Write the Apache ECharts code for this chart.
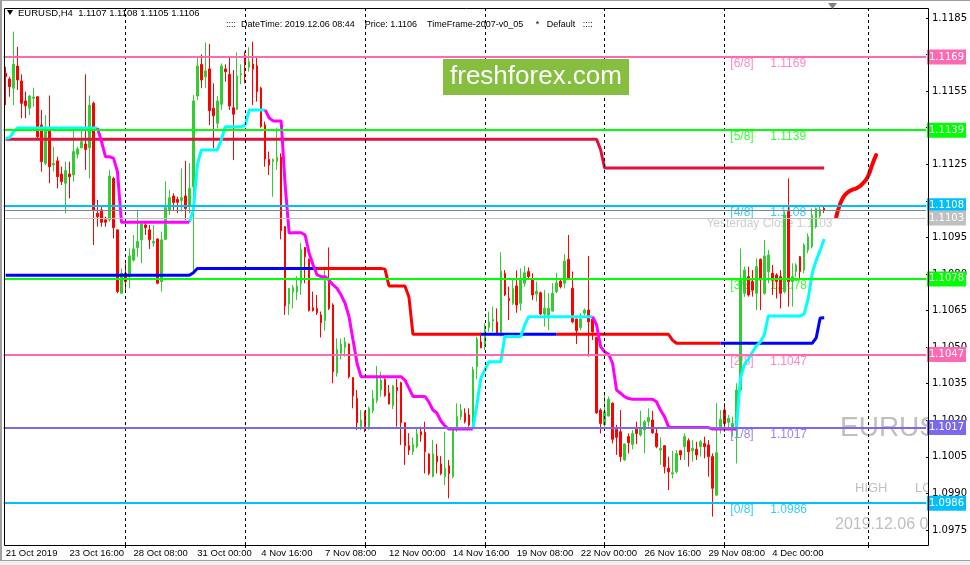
<!DOCTYPE html>
<html><head><meta charset="utf-8">
<script src="https://cdn.jsdelivr.net/npm/echarts@6/dist/echarts.min.js"></script>
<style>html,body{margin:0;padding:0;background:#fff}#c{width:970px;height:565px}</style>
</head><body><div id="c"></div>
<script>
// ---------------- DATA ----------------
const N_BARS = 231; // visible bar slots incl. future area
const opens = [1.11623,1.11600,1.11562,1.11653,1.11592,1.11510,1.11480,1.11521,1.11527,1.11411,1.11254,1.11387,1.11247,1.11264,1.11210,1.11172,1.11210,1.11206,1.11291,1.11318,1.11333,1.11318,1.11500,1.11049,1.11063,1.11022,1.11022,1.11192,1.10981,1.10721,1.10803,1.10789,1.10857,1.10908,1.10940,1.11001,1.10981,1.10927,1.10944,1.10769,1.10942,1.11060,1.11120,1.11106,1.11101,1.11120,1.11083,1.11158,1.11530,1.11660,1.11609,1.11641,1.11480,1.11418,1.11496,1.11641,1.11619,1.11482,1.11475,1.11616,1.11696,1.11648,1.11661,1.11653,1.11562,1.11411,1.11270,1.11261,1.11261,1.11280,1.10994,1.10677,1.10726,1.10726,1.10762,1.10909,1.10860,1.10662,1.10659,1.10632,1.10609,1.10764,1.10673,1.10393,1.10475,1.10499,1.10513,1.10375,1.10290,1.10174,1.10235,1.10174,1.10239,1.10281,1.10324,1.10368,1.10313,1.10260,1.10334,1.10354,1.10190,1.10096,1.10071,1.10092,1.10153,1.10151,1.10062,1.09969,1.10053,1.10021,1.09969,1.10013,1.09969,1.10174,1.10215,1.10229,1.10222,1.10181,1.10420,1.10521,1.10509,1.10581,1.10607,1.10603,1.10550,1.10803,1.10700,1.10680,1.10751,1.10680,1.10762,1.10810,1.10778,1.10718,1.10723,1.10636,1.10632,1.10648,1.10728,1.10771,1.10762,1.10860,1.10741,1.10615,1.10581,1.10639,1.10652,1.10615,1.10540,1.10242,1.10181,1.10218,1.10270,1.10163,1.10153,1.10037,1.10133,1.10101,1.10163,1.10140,1.10160,1.10194,1.10201,1.10146,1.10078,1.10096,1.10003,1.09980,1.09989,1.10075,1.10092,1.10116,1.10075,1.10081,1.10092,1.10105,1.10099,1.10051,1.09893,1.10174,1.10242,1.10192,1.10170,1.10167,1.10324,1.10721,1.10789,1.10769,1.10721,1.10860,1.10721,1.10810,1.10803,1.10796,1.10789,1.10728,1.11056,1.10769,1.10810,1.10871,1.10816,1.10898,1.10912,1.10994,1.11038,1.11070];
const highs = [1.11650,1.11609,1.11794,1.11732,1.11619,1.11548,1.11534,1.11564,1.11530,1.11473,1.11452,1.11532,1.11322,1.11281,1.11240,1.11261,1.11261,1.11391,1.11322,1.11404,1.11619,1.11532,1.11507,1.11104,1.11083,1.11035,1.11227,1.11199,1.10981,1.10823,1.10844,1.10905,1.10960,1.11063,1.11015,1.11015,1.11001,1.11001,1.10946,1.10974,1.11181,1.11145,1.11131,1.11117,1.11233,1.11264,1.11254,1.11534,1.11691,1.11701,1.11750,1.11743,1.11582,1.11530,1.11664,1.11660,1.11691,1.11637,1.11709,1.11660,1.11712,1.11730,1.11753,1.11691,1.11568,1.11425,1.11302,1.11274,1.11398,1.11295,1.10996,1.10743,1.10755,1.10792,1.10926,1.10911,1.10864,1.10728,1.10714,1.10646,1.10830,1.10909,1.10680,1.10536,1.10536,1.10540,1.10515,1.10376,1.10324,1.10242,1.10239,1.10256,1.10324,1.10423,1.10399,1.10372,1.10345,1.10345,1.10369,1.10358,1.10192,1.10147,1.10130,1.10167,1.10174,1.10194,1.10064,1.10119,1.10103,1.10053,1.10153,1.10037,1.10167,1.10270,1.10267,1.10249,1.10249,1.10420,1.10543,1.10559,1.10598,1.10646,1.10666,1.10659,1.10889,1.10816,1.10748,1.10775,1.10814,1.10823,1.10833,1.10827,1.10803,1.10769,1.10728,1.10734,1.10721,1.10762,1.10805,1.10778,1.10882,1.10960,1.10810,1.10617,1.10639,1.10659,1.10874,1.10617,1.10543,1.10249,1.10304,1.10297,1.10274,1.10181,1.10242,1.10105,1.10146,1.10160,1.10194,1.10239,1.10201,1.10249,1.10239,1.10167,1.10130,1.10098,1.10051,1.10075,1.10078,1.10077,1.10146,1.10126,1.10119,1.10112,1.10119,1.10133,1.10119,1.10064,1.10270,1.10242,1.10270,1.10222,1.10215,1.10352,1.10905,1.10830,1.10830,1.10816,1.10864,1.10864,1.10939,1.10898,1.10837,1.10803,1.10816,1.11056,1.11192,1.10844,1.10844,1.10874,1.10926,1.10967,1.11069,1.11073,1.11076,1.11080];
const lows = [1.11493,1.11527,1.11493,1.11555,1.11439,1.11439,1.11452,1.11486,1.11357,1.11220,1.11247,1.11172,1.11220,1.11151,1.11165,1.11049,1.11110,1.11179,1.11274,1.11315,1.11227,1.11192,1.10919,1.10994,1.10994,1.10994,1.11015,1.10946,1.10721,1.10721,1.10734,1.10741,1.10851,1.10871,1.10844,1.10960,1.10903,1.10912,1.10758,1.10728,1.10940,1.11042,1.11063,1.11049,1.11056,1.11022,1.11049,1.10803,1.11514,1.11562,1.11562,1.11411,1.11315,1.11398,1.11473,1.11589,1.11473,1.11268,1.11473,1.11578,1.11582,1.11630,1.11493,1.11507,1.11400,1.11240,1.11206,1.11117,1.11227,1.10942,1.10632,1.10632,1.10659,1.10693,1.10714,1.10762,1.10646,1.10646,1.10632,1.10540,1.10568,1.10652,1.10352,1.10379,1.10450,1.10461,1.10372,1.10249,1.10160,1.10160,1.10151,1.10160,1.10229,1.10270,1.10297,1.10297,1.10265,1.10246,1.10174,1.10099,1.10017,1.10058,1.10058,1.10085,1.10112,1.09982,1.09975,1.09966,1.09982,1.09975,1.09934,1.09880,1.09962,1.10153,1.10201,1.10187,1.10174,1.10174,1.10368,1.10495,1.10488,1.10563,1.10563,1.10550,1.10543,1.10710,1.10611,1.10673,1.10641,1.10650,1.10748,1.10782,1.10693,1.10687,1.10632,1.10584,1.10570,1.10646,1.10721,1.10741,1.10741,1.10775,1.10598,1.10513,1.10570,1.10632,1.10461,1.10529,1.10226,1.10146,1.10174,1.10215,1.10105,1.10058,1.10030,1.10034,1.10064,1.10081,1.10103,1.10133,1.10064,1.10174,1.10144,1.10085,1.10017,1.09982,1.09914,1.09962,1.09982,1.10037,1.10037,1.10010,1.10030,1.10037,1.10051,1.10044,1.09969,1.09805,1.09891,1.10146,1.10153,1.10160,1.10133,1.10023,1.10317,1.10707,1.10707,1.10707,1.10652,1.10652,1.10714,1.10762,1.10714,1.10700,1.10659,1.10721,1.10666,1.10666,1.10789,1.10782,1.10803,1.10885,1.10905,1.10987,1.11028,1.11050];
const closes = [1.11609,1.11568,1.11660,1.11596,1.11500,1.11490,1.11530,1.11526,1.11363,1.11261,1.11398,1.11240,1.11253,1.11199,1.11179,1.11224,1.11199,1.11302,1.11313,1.11343,1.11311,1.11493,1.11063,1.11035,1.11012,1.11012,1.11202,1.10990,1.10728,1.10803,1.10769,1.10874,1.10903,1.10933,1.11004,1.10990,1.10940,1.10933,1.10762,1.10940,1.11072,1.11113,1.11093,1.11094,1.11113,1.11069,1.11151,1.11510,1.11653,1.11596,1.11633,1.11470,1.11449,1.11510,1.11653,1.11630,1.11489,1.11455,1.11612,1.11622,1.11660,1.11671,1.11640,1.11548,1.11404,1.11272,1.11247,1.11270,1.11279,1.10978,1.10669,1.10741,1.10744,1.10751,1.10901,1.10871,1.10650,1.10650,1.10641,1.10600,1.10773,1.10659,1.10399,1.10491,1.10513,1.10521,1.10379,1.10300,1.10190,1.10201,1.10174,1.10249,1.10290,1.10372,1.10365,1.10301,1.10267,1.10341,1.10322,1.10190,1.10095,1.10078,1.10101,1.10144,1.10140,1.10071,1.09982,1.10062,1.10030,1.09982,1.10003,1.09982,1.10160,1.10215,1.10242,1.10194,1.10181,1.10409,1.10533,1.10498,1.10570,1.10604,1.10613,1.10554,1.10812,1.10714,1.10691,1.10741,1.10673,1.10775,1.10805,1.10789,1.10714,1.10730,1.10636,1.10660,1.10659,1.10721,1.10764,1.10748,1.10853,1.10778,1.10604,1.10568,1.10615,1.10652,1.10604,1.10563,1.10231,1.10187,1.10235,1.10286,1.10122,1.10130,1.10051,1.10103,1.10108,1.10146,1.10146,1.10163,1.10194,1.10212,1.10149,1.10092,1.10084,1.10010,1.09989,1.09985,1.10064,1.10058,1.10133,1.10071,1.10085,1.10058,1.10112,1.10092,1.10051,1.09921,1.10067,1.10204,1.10187,1.10208,1.10187,1.10324,1.10775,1.10816,1.10714,1.10734,1.10830,1.10775,1.10874,1.10878,1.10775,1.10769,1.10721,1.11042,1.10769,1.10789,1.10837,1.10810,1.10919,1.10953,1.11042,1.11069,1.11065,1.11060];

// indicator lines: [startBar, [[value, repeatCount], ...]]
const magentaSegs = [
  [23, [[1.11399,1],[1.11343,1],[1.11281,2],[1.11275,1],[1.11220,1],[1.11012,18]]],
  [65, [[1.11473,1],[1.11440,1],[1.11428,3],[1.11165,1],[1.10968,1],[1.10969,3],[1.10960,1],[1.10885,1],[1.10837,1],[1.10796,1],[1.10789,2],[1.10775,1],[1.10755,1],[1.10741,1],[1.10714,1],[1.10680,1],[1.10625,1],[1.10529,1],[1.10434,1],[1.10379,11],[1.10365,1],[1.10332,1],[1.10298,4],[1.10275,1],[1.10242,1],[1.10230,1],[1.10197,1],[1.10177,1],[1.10164,7]]],
  [147, [[1.10625,1],[1.10591,1],[1.10502,1],[1.10481,1],[1.10471,1],[1.10434,1],[1.10324,1],[1.10311,1],[1.10297,1],[1.10289,1],[1.10286,6],[1.10276,1],[1.10242,1],[1.10215,1],[1.10174,1],[1.10170,10],[1.10164,7]]]
];
const cyanSegs = [
  [0, [[1.11357,1],[1.11359,1],[1.11384,1],[1.11399,21]]],
  [46, [[1.11012,1],[1.11063,1],[1.11247,1],[1.11309,5],[1.11350,1],[1.11404,5],[1.11411,1],[1.11473,5]]],
  [117, [[1.10164,1],[1.10263,1],[1.10373,1],[1.10406,1],[1.10440,4],[1.10544,5],[1.10591,1],[1.10625,17]]],
  [183, [[1.10164,1],[1.10373,1],[1.10427,1],[1.10450,1],[1.10479,1],[1.10505,1],[1.10521,1],[1.10550,1],[1.10628,9],[1.10636,1],[1.10700,1],[1.10803,1],[1.10857,1],[1.10898,1],[1.10944,1]]]
];
const trendRuns = [[1.10795,47],[1.10805,1],[1.10823,47],[1.10820,1],[1.10751,5],[1.10706,1],[1.10553,65],[1.10529,1],[1.10516,35],[1.10538,1],[1.10620,1],[1.10621,1]];
const trendBlueRanges = [[0,78],[119,138],[179,205]];
const trendRedRanges = [[78,119],[138,179]];
const crimsonRuns = [[1.11353,149],[1.11310,1],[1.11235,56]];
const forecastStart = 208;
const forecastValues = [1.11034,1.11087,1.11120,1.11136,1.11145,1.11151,1.11161,1.11177,1.11202,1.11247,1.11288];

const murreyLevels = [1.1169,1.1139,1.1108,1.1078,1.1047,1.1017,1.0986];
const murreyNames = ['[6/8]','[5/8]','[4/8]','[3/8]','[2/8]','[1/8]','[0/8]'];
const murreyColors = ['#FF69B4','#00FF00','#00BFFF','#00FF00','#FF69B4','#7B68EE','#00BFFF'];
const bidPrice = 1.1106;
const yesterdayClose = 1.1103;

const yTicks = [1.0975,1.0990,1.1005,1.1020,1.1035,1.1050,1.1065,1.1080,1.1095,1.1110,1.1125,1.1140,1.1155,1.1170,1.1185];
const yTickLabels = [1.0975,1.0990,1.1005,1.1020,1.1035,1.1050,1.1065,1.1080,1.1095,1.1125,1.1155,1.1185]; // those not hidden behind price boxes
const timeLabelIdx = [0,16,32,48,64,80,96,112,128,144,160,176,192];
const timeLabels = ['21 Oct 2019','23 Oct 16:00','28 Oct 08:00','31 Oct 00:00','4 Nov 16:00','7 Nov 08:00','12 Nov 00:00','14 Nov 16:00','19 Nov 08:00','22 Nov 00:00','26 Nov 16:00','29 Nov 08:00','4 Dec 00:00'];
const separatorIdx = [30,60,90,120,150,180,216];

// ---------------- helpers ----------------
const categories = Array.from({length: N_BARS}, (_, i) => String(i));
function runsToArray(start, runs) {
  const out = new Array(N_BARS).fill(null);
  let k = start;
  runs.forEach(([v, n]) => { for (let j = 0; j < n; j++) out[k++] = v; });
  return out;
}
function segsToArray(segs) {
  const out = new Array(N_BARS).fill(null);
  segs.forEach(([s, runs]) => {
    const a = runsToArray(s, runs);
    a.forEach((v, i) => { if (v !== null) out[i] = v; });
  });
  return out;
}
function pick(full, ranges) {
  const out = new Array(N_BARS).fill(null);
  ranges.forEach(([a, b]) => { for (let i = a; i <= b; i++) out[i] = full[i]; });
  return out;
}
const trendFull = runsToArray(0, trendRuns);
const crimson = runsToArray(0, crimsonRuns);
const forecast = new Array(N_BARS).fill(null);
forecastValues.forEach((v, j) => forecast[forecastStart + j] = v);
const candleData = opens.map((o, i) => [o, closes[i], lows[i], highs[i]]);

const boxLabel = (txt, bg) => ({show: true, position: 'end', formatter: txt, backgroundColor: bg, color: '#fff',
  fontSize: 10, fontFamily: 'DejaVu Sans', padding: [3, 2, 2, 2], distance: 1});

const markData = [];
separatorIdx.forEach(i => markData.push({xAxis: String(i), lineStyle: {color: '#000', width: 1, type: [3, 3]}, label: {show: false}}));
markData.push({yAxis: bidPrice, lineStyle: {color: '#778899', width: 1, type: 'solid'}, label: boxLabel(bidPrice.toFixed(4), '#000')});
murreyLevels.forEach((lv, k) => markData.push({yAxis: lv, lineStyle: {color: murreyColors[k], width: 2, type: 'solid'}, label: boxLabel(lv.toFixed(4), murreyColors[k])}));
markData.push({yAxis: yesterdayClose, lineStyle: {color: '#C0C0C0', width: 1, type: 'solid'}, label: boxLabel(yesterdayClose.toFixed(4), '#C0C0C0')});

const textPoints = [];
murreyLevels.forEach((lv, k) => {
  textPoints.push({value: ['182', lv], label: {formatter: murreyNames[k], color: murreyColors[k]}});
  textPoints.push({value: ['192', lv], label: {formatter: lv.toFixed(4), color: murreyColors[k]}});
});
textPoints.push({value: ['175', yesterdayClose], label: {formatter: 'Yesterday Close ' + yesterdayClose.toFixed(4), color: '#C0C0C0', offset: [2, 6]}});

const silverTxt = (x, y, t, size) => ({type: 'text', x, y, z: 0, z2: 0, silent: true,
  style: {text: t, fill: '#C0C0C0', font: size + 'px "Liberation Sans"', textVerticalAlign: 'middle', verticalAlign: 'middle'}});

const option = {
  animation: false,
  backgroundColor: '#fff',
  grid: {left: 3.67, right: 42.33, top: 8, bottom: 20},
  xAxis: {
    type: 'category', data: categories, boundaryGap: true,
    axisLine: {show: false},
    axisTick: {show: true, alignWithLabel: true, length: 3, interval: (i) => separatorIdx.includes(i), lineStyle: {color: '#000'}},
    axisLabel: {interval: (i) => timeLabelIdx.includes(i), formatter: (v, i) => timeLabels[timeLabelIdx.indexOf(Number(v))] || '',
      align: 'left', margin: 3, color: '#000', fontSize: 9.5, fontFamily: 'Liberation Sans'},
    splitLine: {show: false}
  },
  yAxis: {
    type: 'value', position: 'right', min: 1.096885, max: 1.11891, scale: true, z: 1,
    axisLine: {show: false},
    axisTick: {show: true, length: 3, customValues: yTicks, lineStyle: {color: '#000'}},
    axisLabel: {customValues: yTickLabels, formatter: (v) => v.toFixed(4), color: '#000', fontSize: 10, fontFamily: 'DejaVu Sans', margin: 6},
    splitLine: {show: false}
  },
  series: [
    {name: 'levels', type: 'line', data: [], z: 1.5, silent: true,
      markLine: {silent: true, symbol: ['none', 'none'], precision: 6, animation: false, data: markData}},
    {name: 'levelText', type: 'scatter', data: textPoints, symbolSize: 0, z: 1.5, silent: true,
      label: {show: true, position: 'right', distance: 0, offset: [-2, 7], fontSize: 12, fontFamily: 'Liberation Sans'}},
    {name: 'EURUSD', type: 'candlestick', data: candleData, z: 2, barWidth: 2,
      itemStyle: {color: '#32CD32', color0: '#FF0000', borderColor: '#32CD32', borderColor0: '#FF0000', borderWidth: 1}},
    {name: 'daily', type: 'line', data: crimson, z: 3, showSymbol: false, symbol: 'none', lineStyle: {color: '#DC143C', width: 3}},
    {name: 'trendBlue', type: 'line', data: pick(trendFull, trendBlueRanges), z: 3, symbol: 'none', lineStyle: {color: '#0000FF', width: 3}},
    {name: 'trendRed', type: 'line', data: pick(trendFull, trendRedRanges), z: 3, symbol: 'none', lineStyle: {color: '#FF0000', width: 3}},
    {name: 'stopUp', type: 'line', data: segsToArray(cyanSegs), z: 4, symbol: 'none', lineStyle: {color: '#00FFFF', width: 3}},
    {name: 'stopDown', type: 'line', data: segsToArray(magentaSegs), z: 4, symbol: 'none', lineStyle: {color: '#FF00FF', width: 3}},
    {name: 'forecast', type: 'line', data: forecast, z: 4, symbol: 'none', smooth: true, lineStyle: {color: '#FF0000', width: 4, cap: 'round'}}
  ],
  graphic: {elements: [
    silverTxt(840, 428, 'EURUSD', 28),
    silverTxt(855, 488, 'HIGH', 13),
    silverTxt(915, 488, 'LOW', 13),
    silverTxt(835, 525, '2019.12.06 08:44', 16),
    {type: 'rect', z: 0, z2: 1, silent: true, shape: {x: 929, y: 380, width: 41, height: 166}, style: {fill: '#fff'}},
    {type: 'rect', z: 10, silent: true, shape: {x: 443, y: 59, width: 186, height: 36}, style: {fill: '#86BE40'}},
    {type: 'text', z: 10, z2: 1, silent: true, x: 536, y: 77, style: {text: 'freshforex.com', fill: '#fff', font: '26px "Liberation Sans"', align: 'center', verticalAlign: 'middle', textAlign: 'center', textVerticalAlign: 'middle'}},
    {type: 'rect', z: 10, silent: true, shape: {x: 4.5, y: 8.5, width: 924, height: 537}, style: {fill: 'none', stroke: '#000', lineWidth: 1}},
    {type: 'polygon', z: 10, silent: true, shape: {points: [[7, 10], [13, 10], [10, 15]]}, style: {fill: '#000'}},
    {type: 'text', z: 10, silent: true, x: 18, y: 13, style: {text: 'EURUSD,H4  1.1107 1.1108 1.1105 1.1106', fill: '#000', font: '9.5px "Liberation Sans"', verticalAlign: 'middle', textVerticalAlign: 'middle'}},
    {type: 'text', z: 10, silent: true, x: 226, y: 25, style: {text: '::::  DateTime: 2019.12.06 08:44    Price: 1.1106    TimeFrame-2007-v0_05     *   Default   ::::', fill: '#000', font: '9px "Liberation Sans"', verticalAlign: 'middle', textVerticalAlign: 'middle'}},
    {type: 'polygon', z: 10, silent: true, shape: {points: [[828, 3], [837, 3], [832.5, 9]]}, style: {fill: '#808080'}},
    {type: 'rect', z: 10, silent: true, shape: {x: 0, y: 0, width: 970, height: 1}, style: {fill: '#A0A0A0'}},
    {type: 'rect', z: 10, silent: true, shape: {x: 0, y: 0, width: 2, height: 565}, style: {fill: '#A0A0A0'}},
    {type: 'rect', z: 10, silent: true, shape: {x: 0, y: 561, width: 970, height: 4}, style: {fill: '#F0F0F0'}},
    {type: 'rect', z: 10, silent: true, shape: {x: 0, y: 560, width: 970, height: 1}, style: {fill: '#A0A0A0'}}
  ]}
};
const chart = echarts.init(document.getElementById('c'));
chart.setOption(option);
</script></body></html>
